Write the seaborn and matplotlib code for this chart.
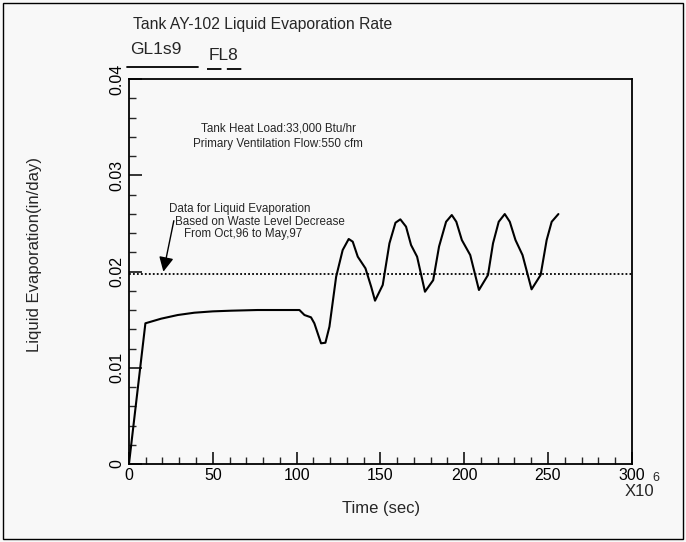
import matplotlib
matplotlib.use("Agg")
import matplotlib.pyplot as plt
from matplotlib.lines import Line2D
from matplotlib.patches import Rectangle
from matplotlib.ticker import MultipleLocator
import pandas as pd
import seaborn as sns

# time in units of 1e6 sec, evaporation rate in in/day
time_values = [0, 9.8, 19.2, 29.1, 39, 50, 61, 76.6, 101.7, 104.7, 108.6, 110.6,
               114.6, 117.2, 119.6, 123.6, 127.5, 131.1, 133.5, 136.5, 141.1,
               144.5, 146.8, 151.4, 155.4, 159, 161.9, 165.3, 168.3, 171.9, 176.6,
               181.5, 185, 189.2, 192.6, 195.3, 198.6, 203.6, 208.8, 214.2, 217.2,
               220.6, 224.2, 227.2, 230.6, 234.8, 240.2, 245.6, 249.2, 252.2, 256.2]
evap_values = [0, 0.01462, 0.0151, 0.01548, 0.01572, 0.01586, 0.01593, 0.0160,
               0.0160, 0.01548, 0.01524, 0.01462, 0.01254, 0.0126, 0.01427,
               0.01946, 0.02223, 0.02338, 0.0231, 0.02154, 0.02033, 0.01842,
               0.01697, 0.0186, 0.02293, 0.02507, 0.02542, 0.02466, 0.02275,
               0.02154, 0.0179, 0.0191, 0.0226, 0.02517, 0.02587, 0.02517,
               0.02327, 0.02171, 0.01808, 0.01964, 0.02293, 0.02517, 0.02597,
               0.02517, 0.02327, 0.02171, 0.01815, 0.01964, 0.02327, 0.02517, 0.02597]
measured_rate = 0.0197

x_ticks = [0, 50, 100, 150, 200, 250, 300]
y_ticks = [0, 0.01, 0.02, 0.03, 0.04]
y_tick_labels = ['0', '0.01', '0.02', '0.03', '0.04']

sns.set_style("white")
plt.rcParams['font.family'] = ['Liberation Sans', 'DejaVu Sans']

bg = '#f8f8f8'
fig = plt.figure(figsize=(6.86, 5.42), dpi=100)
fig.patch.set_facecolor(bg)
ax = fig.add_axes([0.188, 0.1439, 0.733, 0.7103])
ax.set_facecolor(bg)

df = pd.DataFrame({'time': time_values, 'evap': evap_values})
sns.lineplot(data=df, x='time', y='evap', ax=ax, color='black', lw=1.5,
             sort=False, estimator=None)
ax.axhline(measured_rate, color='black', ls=(0, (1, 1.2)), lw=1.3)

ax.set_xlim(0, 300)
ax.set_ylim(0, 0.04)
ax.set_xticks(x_ticks)
ax.set_xticklabels([str(t) for t in x_ticks], fontsize=11.5)
ax.set_yticks(y_ticks)
ax.set_yticklabels(y_tick_labels, rotation=90, va='center', fontsize=11.5)
ax.xaxis.set_minor_locator(MultipleLocator(10))
ax.yaxis.set_minor_locator(MultipleLocator(0.002))
ax.tick_params(which='major', direction='in', length=9, width=1.1,
               top=False, right=False, bottom=True, left=True, pad=3, colors='black')
ax.tick_params(which='minor', direction='in', length=5, width=1,
               top=False, right=False, bottom=True, left=True)
for sp in ax.spines.values():
    sp.set_color('black')
    sp.set_linewidth(1.3)
ax.set_xlabel('')
ax.set_ylabel('')

# axis labels and multiplier
fig.text(381 / 686, 1 - 508 / 542, 'Time (sec)', ha='center', va='center', fontsize=12)
fig.text(35 / 686, 1 - 254 / 542, 'Liquid Evaporation(in/day)', rotation=90,
         ha='center', va='center', fontsize=12)
ax.text(1.016, -0.072, 'X10', transform=ax.transAxes, ha='center', va='center', fontsize=12)
ax.text(1.047, -0.036, '6', transform=ax.transAxes, ha='center', va='center', fontsize=9)

# title and legend above the plot
fig.text(133 / 686, 1 - 24 / 542, 'Tank AY-102 Liquid Evaporation Rate',
         ha='left', va='center', fontsize=11.3)
fig.text(130 / 686, 1 - 50 / 542, 'GL1s9', ha='left', va='center', fontsize=12.5)
fig.text(209 / 686, 1 - 55 / 542, 'FL8', ha='left', va='center', fontsize=12.5)
fig.add_artist(Line2D([127 / 686, 198 / 686], [1 - 67 / 542] * 2, color='black', lw=1.3))
fig.add_artist(Line2D([207 / 686, 242 / 686], [1 - 69 / 542] * 2, color='black', lw=1.3,
                      ls=(0, (8, 3))))

# notes
ax.text(89, 0.0349, 'Tank Heat Load:33,000 Btu/hr', ha='center', va='center', fontsize=8.4)
ax.text(89, 0.03325, 'Primary Ventilation Flow:550 cfm', ha='center', va='center', fontsize=8.4)
ax.text(23.6, 0.0265, 'Data for Liquid Evaporation', ha='left', va='center', fontsize=8.4)
ax.text(27.7, 0.02514, 'Based on Waste Level Decrease', ha='left', va='center', fontsize=8.4)
ax.text(33.1, 0.0239, 'From Oct,96 to May,97', ha='left', va='center', fontsize=8.4)
ax.annotate('', xy=(20.2, measured_rate), xytext=(27.1, 0.02556),
            arrowprops=dict(arrowstyle='-|>', color='black', lw=1, mutation_scale=22))

# page border from the scan
fig.add_artist(Rectangle((3 / 686, 3 / 542), 680 / 686, 536 / 542, transform=fig.transFigure,
                         fill=False, edgecolor='black', lw=1))

fig.savefig('out.png', dpi=100, facecolor=bg)
